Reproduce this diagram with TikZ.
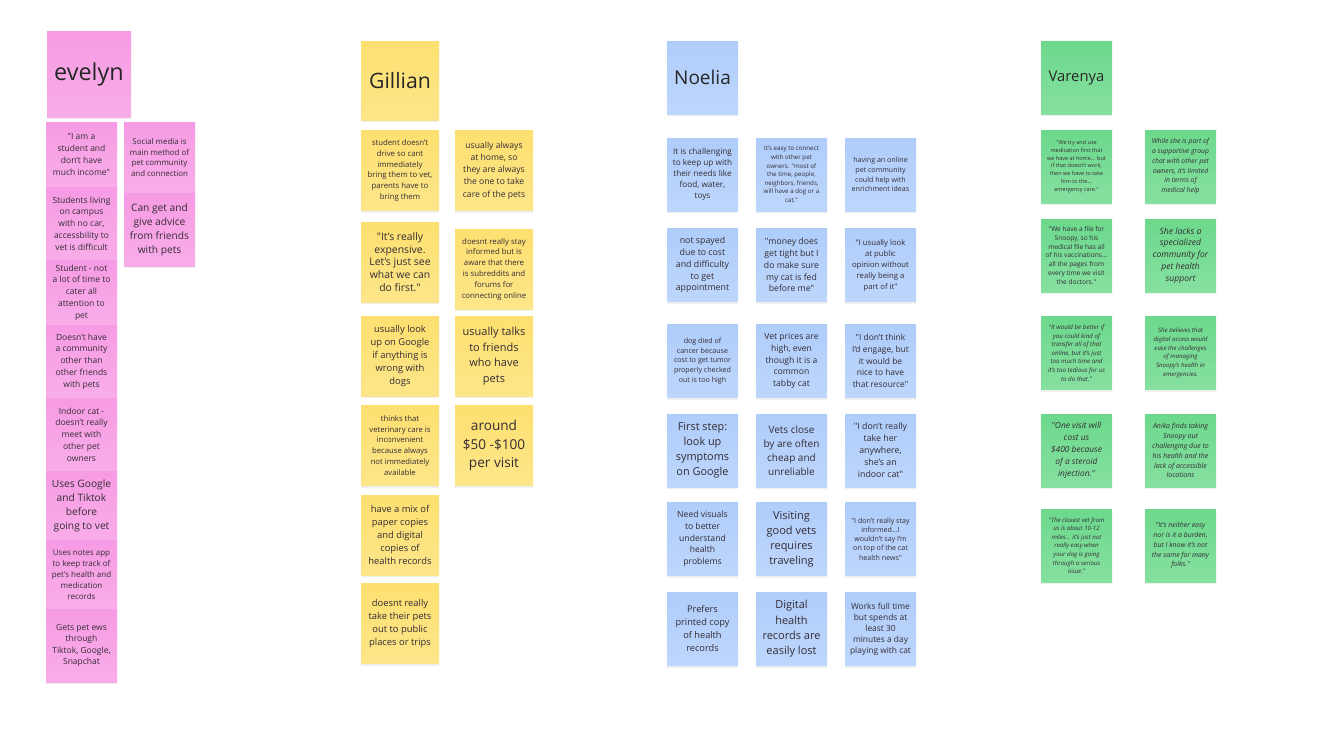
\documentclass[tikz,border=0pt]{standalone}
\usepackage{fontspec}
\setmainfont{Open Sans}
\usepackage{tikz}
\usetikzlibrary{shadows}
\definecolor{evpink}{RGB}{247,155,228}
\definecolor{gilyellow}{RGB}{253,224,112}
\definecolor{noblue}{RGB}{175,205,251}
\definecolor{vagreen}{RGB}{108,217,140}
\definecolor{ink}{RGB}{52,44,52}
\newcommand{\fs}[2]{\fontsize{#1}{#2}\selectfont}
\newcommand{\dq}{\textquotedbl}

\tikzset{
  sticky/.style={rectangle, inner sep=0pt, align=center, text=ink,
    top color=#1, bottom color=#1!82!white,
    drop shadow={opacity=0.12, shadow xshift=0pt, shadow yshift=-1.2pt}},
  evnote/.style={sticky=evpink, minimum width=35.5pt},
  gilnote/.style={sticky=gilyellow, minimum width=39pt, minimum height=40pt},
  nonote/.style={sticky=noblue, minimum width=35.5pt, minimum height=36.5pt},
  vanote/.style={sticky=vagreen, minimum width=35.5pt, minimum height=36.5pt},
  title/.style={text=black!85}
}

\begin{document}
\begin{tikzpicture}[x=0.5pt,y=-0.5pt]
  \useasboundingbox[fill=white] (0,0) rectangle (1333,750);

  % evelyn
  \node[evnote, title, minimum width=42pt, minimum height=43pt, font=\fs{11.7}{14}] (evelyn) at (89,74) {evelyn};
  \node[evnote, minimum height=32.5pt, font=\fs{4.25}{5.9}] (ev1) at (81.5,154.5) {\dq{}I am a\\student and\\don't have\\much income\dq};
  \node[evnote, minimum height=36.5pt, font=\fs{4.25}{5.9}] (ev2) at (81.5,223.5) {Students living\\on campus\\with no car,\\accessbility to\\vet is difficult};
  \node[evnote, minimum height=32.5pt, font=\fs{4.25}{5.9}] (ev3) at (81.5,292.5) {Student - not\\a lot of time to\\cater all\\attention to\\pet};
  \node[evnote, minimum height=36.5pt, font=\fs{4.25}{5.9}] (ev4) at (81.5,361.5) {Doesn't have\\a community\\other than\\other friends\\with pets};
  \node[evnote, minimum height=36.5pt, font=\fs{4.25}{5.9}] (ev5) at (81.5,434.5) {Indoor cat -\\doesn't really\\meet with\\other pet\\owners};
  \node[evnote, minimum height=34.5pt, font=\fs{5.1}{7}] (ev6) at (81.5,505.5) {Uses Google\\and Tiktok\\before\\going to vet};
  \node[evnote, minimum height=34.5pt, font=\fs{4}{5.5}] (ev7) at (81.5,574.5) {Uses notes app\\to keep track of\\pet's health and\\medication\\records};
  \node[evnote, minimum height=36.5pt, font=\fs{4.25}{5.7}] (ev8) at (81.5,645.5) {Gets pet ews\\through\\Tiktok, Google,\\Snapchat};
  \node[evnote, minimum height=35.5pt, font=\fs{3.95}{5.4}] (ev9) at (159.5,157.5) {Social media is\\main method of\\pet community\\and connection};
  \node[evnote, minimum height=36.5pt, font=\fs{5.1}{7}] (ev10) at (159.5,229.5) {Can get and\\give advice\\from friends\\with pets};

  % Gillian
  \node[gilnote, title, minimum height=39.5pt, font=\fs{10.6}{13}] (gillian) at (400,80.5) {Gillian};
  \node[gilnote, font=\fs{3.9}{5.35}] (gil1) at (400,170.5) {student doesn't\\drive so cant\\immediately\\bring them to vet,\\parents have to\\bring them};
  \node[gilnote, font=\fs{5.2}{6.4}] (gil2) at (400,262) {\dq{}It's really\\expensive.\\Let's just see\\what we can\\do first.\dq};
  \node[gilnote, font=\fs{4.7}{6.5}] (gil3) at (400,356) {usually look\\up on Google\\if anything is\\wrong with\\dogs};
  \node[gilnote, font=\fs{3.85}{5.4}] (gil4) at (400,445.5) {thinks that\\veterinary care is\\inconvenient\\because always\\not immediately\\available};
  \node[gilnote, font=\fs{4.7}{6.4}] (gil5) at (400,535) {have a mix of\\paper copies\\and digital\\copies of\\health records};
  \node[gilnote, font=\fs{4.7}{6.4}] (gil6) at (400,623.5) {doesnt really\\take their pets\\out to public\\places or trips};
  \node[gilnote, font=\fs{4.3}{6.1}] (gil7) at (494,170.5) {usually always\\at home, so\\they are always\\the one to take\\care of the pets};
  \node[gilnote, font=\fs{3.9}{5.4}] (gil8) at (494,269) {doesnt really stay\\informed but is\\aware that there\\is subreddits and\\forums for\\connecting online};
  \node[gilnote, font=\fs{5.5}{7.8}] (gil9) at (494,356) {usually talks\\to friends\\who have\\pets};
  \node[gilnote, font=\fs{6.8}{9.3}] (gil10) at (494,445.5) {around\\\$50 -\$100\\per visit};

  % Noelia
  \node[nonote, title, font=\fs{9.5}{12}] (noelia) at (702.5,77.5) {Noelia};
  \node[nonote, font=\fs{4.1}{5.5}] (no1) at (702.5,174.5) {It is challenging\\to keep up with\\their needs like\\food, water,\\toys};
  \node[nonote, font=\fs{3.1}{4.3}] (no2) at (791.5,174.5) {It's easy to connect\\with other pet\\owners. \dq{}most of\\the time, people,\\neighbors, friends,\\will have a dog or a\\cat.\dq};
  \node[nonote, font=\fs{3.55}{4.9}] (no3) at (880.5,174.5) {having an online\\pet community\\could help with\\enrichment ideas};
  \node[nonote, font=\fs{4.4}{5.9}] (no4) at (702.5,265) {not spayed\\due to cost\\and difficulty\\to get\\appointment};
  \node[nonote, font=\fs{4.35}{5.9}] (no5) at (791.5,265) {\dq{}money does\\get tight but I\\do make sure\\my cat is fed\\before me\dq};
  \node[nonote, font=\fs{3.85}{5.5}] (no6) at (880.5,265) {\dq{}I usually look\\at public\\opinion without\\really being a\\part of it\dq};
  \node[nonote, font=\fs{3.55}{4.85}] (no7) at (702.5,361) {dog died of\\cancer because\\cost to get tumor\\properly checked\\out is too high};
  \node[nonote, font=\fs{4.3}{5.85}] (no8) at (791.5,361) {Vet prices are\\high, even\\though it is a\\common\\tabby cat};
  \node[nonote, font=\fs{4.2}{5.8}] (no9) at (880.5,361) {\dq{}I don't think\\I'd engage, but\\it would be\\nice to have\\that resource\dq};
  \node[nonote, font=\fs{5.45}{7.5}] (no10) at (702.5,450.5) {First step:\\look up\\symptoms\\on Google};
  \node[nonote, font=\fs{5}{7}] (no11) at (791.5,450.5) {Vets close\\by are often\\cheap and\\unreliable};
  \node[nonote, font=\fs{4.4}{6}] (no12) at (880.5,450.5) {\dq{}I don't really\\take her\\anywhere,\\she's an\\indoor cat\dq};
  \node[nonote, font=\fs{4.3}{5.85}] (no13) at (702.5,539) {Need visuals\\to better\\understand\\health\\problems};
  \node[nonote, font=\fs{5.5}{7.5}] (no14) at (791.5,539) {Visiting\\good vets\\requires\\traveling};
  \node[nonote, font=\fs{3.55}{4.65}] (no15) at (880.5,539) {\dq{}I don't really stay\\informed...I\\wouldn't say I'm\\on top of the cat\\health news\dq};
  \node[nonote, font=\fs{4.6}{6.5}] (no16) at (702.5,629) {Prefers\\printed copy\\of health\\records};
  \node[nonote, font=\fs{5.5}{7.65}] (no17) at (791.5,629) {Digital\\health\\records are\\easily lost};
  \node[nonote, font=\fs{4.2}{5.55}] (no18) at (880.5,629) {Works full time\\but spends at\\least 30\\minutes a day\\playing with cat};

  % Varenya
  \node[vanote, title, font=\fs{7.4}{9}] (varenya) at (1076.5,77.5) {Varenya};
  \node[vanote, font=\fs{2.75}{3.9}] (va1) at (1076.5,166.5) {\dq{}We try and use\\medication first that\\we have at home... but\\if that doesn't work,\\then we have to take\\him to the...\\emergency care.\dq};
  \node[vanote, font=\fs{3.3}{4.4}] (va2) at (1076.5,255.5) {\dq{}We have a file for\\Snoopy, so his\\medical file has all\\of his vaccinations...\\all the pages from\\every time we visit\\the doctors.\dq};
  \node[vanote, font=\fs{3.1}{4.3}\itshape] (va3) at (1076.5,353) {\dq{}It would be better if\\you could kind of\\transfer all of that\\online, but it's just\\too much time and\\it's too tedious for us\\to do that.\dq};
  \node[vanote, font=\fs{4.2}{6}\itshape] (va4) at (1076.5,450.5) {\dq{}One visit will\\cost us\\\$400 because\\of a steroid\\injection.\dq};
  \node[vanote, font=\fs{3.05}{4.3}\itshape] (va5) at (1076.5,545.5) {\dq{}The closest vet from\\us is about 10-12\\miles... it's just not\\really easy when\\your dog is going\\through a serious\\issue.\dq};
  \node[vanote, font=\fs{3.4}{4.9}\itshape] (va6) at (1180.5,166.5) {While she is part of\\a supportive group\\chat with other pet\\owners, it's limited\\in terms of\\medical help};
  \node[vanote, font=\fs{4.3}{5.9}\itshape] (va7) at (1180.5,255.5) {She lacks a\\specialized\\community for\\pet health\\support};
  \node[vanote, font=\fs{3.05}{4.35}\itshape] (va8) at (1180.5,353) {She believes that\\digital access would\\ease the challenges\\of managing\\Snoopy's health in\\emergencies.};
  \node[vanote, font=\fs{3.5}{4.95}\itshape] (va9) at (1180.5,450.5) {Anika finds taking\\Snoopy out\\challenging due to\\his health and the\\lack of accessible\\locations};
  \node[vanote, font=\fs{3.45}{4.9}\itshape] (va10) at (1180.5,545.5) {\dq{}It's neither easy\\nor is it a burden,\\but I know it's not\\the same for many\\folks.\dq};
\end{tikzpicture}
\end{document}
